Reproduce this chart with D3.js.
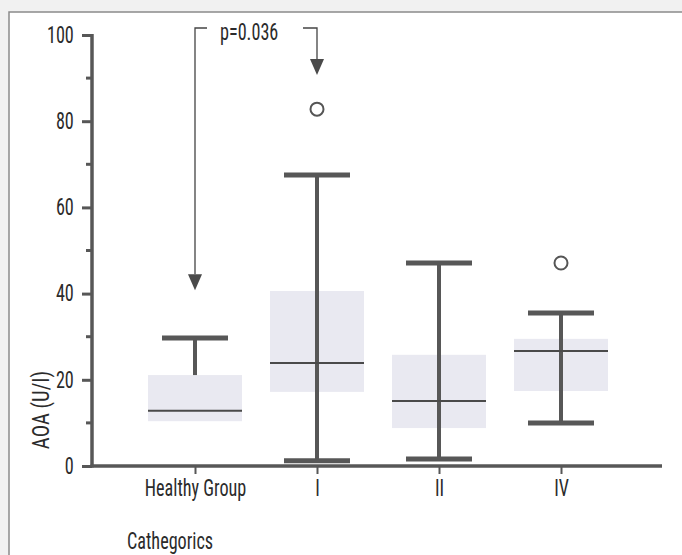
<!DOCTYPE html>
<html>
<head>
<meta charset="utf-8">
<script src="https://cdn.jsdelivr.net/npm/d3@7"></script>
<style>
  html, body { margin: 0; padding: 0; background: #f1f1f1; }
  svg { display: block; }
  text { font-family: "Liberation Sans Narrow", "Roboto Condensed", "Arial Narrow", sans-serif; fill: #2b2b2b; }
</style>
</head>
<body>
<div id="chart"></div>
<script>
const categories = ["Healthy Group", "I", "II", "IV"];
// box stats per category: whisker low, q1, median, q3, whisker high
const whiskerLow = [null, 1.2, 1.6, 10.0];
const q1 = [10.4, 17.2, 8.8, 17.4];
const median = [12.8, 23.9, 15.1, 26.7];
const q3 = [21.1, 40.6, 25.8, 29.5];
const whiskerHigh = [29.7, 67.5, 47.1, 35.5];
const outliers = [null, 82.8, null, 47.1];
const yTicks = [0, 20, 40, 60, 80, 100];
const yMinorTicks = [10, 30, 50, 70, 90];
const pLabel = "p=0.036";
const arrowFrom = { cat: "Healthy Group", value: 40.8 };
const arrowTo = { cat: "I", value: 90.7 };

const W = 682, H = 555;
const fontSize = 23, squeeze = 0.79;
const svg = d3.select("#chart").append("svg")
  .attr("width", W)
  .attr("height", H);

// framed panel
svg.append("rect")
  .attr("x", 9).attr("y", 12)
  .attr("width", W).attr("height", H)
  .attr("fill", "#fff")
  .attr("stroke", "#8a8a8a")
  .attr("stroke-width", 1.5);

const x = d3.scalePoint().domain(categories).range([195, 561]);
const y = d3.scaleLinear().domain([0, 100]).range([466, 35]);
const axisX0 = 92, axisX1 = 662;

const dark = "#575757";

// boxes
const boxW = 94;
categories.forEach((c, i) => {
  const cx = x(c);
  svg.append("rect")
    .attr("x", cx - boxW / 2)
    .attr("y", y(q3[i]))
    .attr("width", boxW)
    .attr("height", y(q1[i]) - y(q3[i]))
    .attr("fill", "#e9e9f1");
});

// whiskers
const capW = 66;
categories.forEach((c, i) => {
  const cx = x(c);
  const lo = whiskerLow[i] == null ? q3[i] : whiskerLow[i];
  svg.append("line")
    .attr("x1", cx).attr("x2", cx)
    .attr("y1", y(whiskerHigh[i])).attr("y2", y(lo))
    .attr("stroke", dark).attr("stroke-width", 4);
  svg.append("line")
    .attr("x1", cx - capW / 2).attr("x2", cx + capW / 2)
    .attr("y1", y(whiskerHigh[i])).attr("y2", y(whiskerHigh[i]))
    .attr("stroke", dark).attr("stroke-width", 5);
  if (whiskerLow[i] != null) {
    svg.append("line")
      .attr("x1", cx - capW / 2).attr("x2", cx + capW / 2)
      .attr("y1", y(whiskerLow[i])).attr("y2", y(whiskerLow[i]))
      .attr("stroke", dark).attr("stroke-width", 5);
  }
  // median
  svg.append("line")
    .attr("x1", cx - boxW / 2).attr("x2", cx + boxW / 2)
    .attr("y1", y(median[i])).attr("y2", y(median[i]))
    .attr("stroke", "#4a4a4a").attr("stroke-width", 2);
  if (outliers[i] != null) {
    svg.append("circle")
      .attr("cx", cx).attr("cy", y(outliers[i]))
      .attr("r", 6.5)
      .attr("fill", "#fff")
      .attr("stroke", "#555").attr("stroke-width", 2);
  }
});

// y axis
const yAxis = svg.append("g")
  .attr("transform", `translate(${axisX0},0)`)
  .call(d3.axisLeft(y).tickValues(yTicks).tickSize(10).tickPadding(13));
yAxis.select(".domain").remove();
yAxis.selectAll(".tick line").attr("stroke", dark).attr("stroke-width", 3);
yAxis.selectAll(".tick text")
  .attr("font-size", fontSize).attr("fill", "#2b2b2b")
  .attr("transform", `scale(${squeeze},1)`)
  .style("font-family", "'Liberation Sans Narrow', 'Roboto Condensed', sans-serif");

svg.append("g")
  .selectAll("line")
  .data(yMinorTicks)
  .join("line")
  .attr("x1", axisX0 - 6).attr("x2", axisX0)
  .attr("y1", d => y(d)).attr("y2", d => y(d))
  .attr("stroke", dark).attr("stroke-width", 3);

svg.append("line")
  .attr("x1", axisX0).attr("x2", axisX0)
  .attr("y1", y(100) - 1).attr("y2", y(0) + 1.5)
  .attr("stroke", dark).attr("stroke-width", 3.5);

// x axis
svg.append("line")
  .attr("x1", axisX0 - 1.5).attr("x2", axisX1)
  .attr("y1", y(0)).attr("y2", y(0))
  .attr("stroke", dark).attr("stroke-width", 3.5);

const xAxis = svg.append("g")
  .attr("transform", `translate(0,${y(0)})`)
  .call(d3.axisBottom(x).tickSize(8).tickPadding(6));
xAxis.select(".domain").remove();
xAxis.selectAll(".tick line").attr("stroke", dark).attr("stroke-width", 2);
xAxis.selectAll(".tick text")
  .attr("font-size", fontSize).attr("fill", "#2b2b2b")
  .attr("transform", `scale(${squeeze},1)`)
  .style("font-family", "'Liberation Sans Narrow', 'Roboto Condensed', sans-serif");

// axis titles
svg.append("text")
  .attr("transform", `translate(49,${410}) rotate(-90) scale(0.9,1)`)
  .attr("text-anchor", "middle")
  .attr("font-size", fontSize)
  .text("AOA (U/I)");

svg.append("text")
  .attr("transform", `translate(127,549) scale(${squeeze},1)`)
  .attr("font-size", fontSize)
  .text("Cathegorics");

// significance bracket
const bracketY = 28;
const lx = x(arrowFrom.cat), rx = x(arrowTo.cat);
const headH = 16, headW = 14;
svg.append("path")
  .attr("d", `M${lx},${y(arrowFrom.value) - headH} V${bracketY} H${lx + 12}`)
  .attr("fill", "none").attr("stroke", "#444").attr("stroke-width", 1.3);
svg.append("path")
  .attr("d", `M${rx - 14},${bracketY} H${rx} V${y(arrowTo.value) - headH}`)
  .attr("fill", "none").attr("stroke", "#444").attr("stroke-width", 1.3);
[[lx, arrowFrom.value], [rx, arrowTo.value]].forEach(([ax, v]) => {
  const ty = y(v);
  svg.append("path")
    .attr("d", `M${ax - headW / 2},${ty - headH} L${ax + headW / 2},${ty - headH} L${ax},${ty} Z`)
    .attr("fill", "#4a4a4a");
});
svg.append("text")
  .attr("transform", `translate(220,40) scale(${squeeze},1)`)
  .attr("font-size", fontSize)
  .text(pLabel);
</script>
</body>
</html>
